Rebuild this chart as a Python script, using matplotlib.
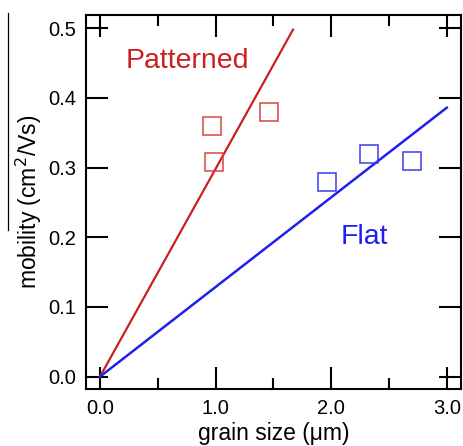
import matplotlib
matplotlib.use("Agg")
import matplotlib.pyplot as plt
from matplotlib.lines import Line2D
from matplotlib.ticker import MultipleLocator
import numpy as np

plt.rcParams['font.family'] = ['Liberation Sans', 'DejaVu Sans']

# measured points
patterned_x = [0.97, 0.985, 1.465]
patterned_y = [0.36, 0.308, 0.38]
flat_x = [1.96, 2.33, 2.70]
flat_y = [0.28, 0.32, 0.31]

# fit lines through origin
patterned_line_x = [0.0, 1.67]
patterned_line_y = [0.0, 0.498]
flat_line_x = [0.0, 3.0]
flat_line_y = [0.0, 0.386]

red = '#cc1f1f'
red_sq = '#d8463f'
blue = '#1f1fee'
blue_sq = '#3a3af0'

fig = plt.figure(figsize=(4.63, 4.46), dpi=100)
ax = fig.add_axes([0.1857, 0.1278, 0.81, 0.8386])

ax.plot(patterned_line_x, patterned_line_y, color=red, lw=1.6)
ax.plot(flat_line_x, flat_line_y, color=blue, lw=1.8)
ax.plot(patterned_x, patterned_y, 's', ms=13, mfc='none', mec=red_sq, mew=1.1)
ax.plot(flat_x, flat_y, 's', ms=13, mfc='none', mec=blue_sq, mew=1.1)

ax.text(0.22, 0.453, 'Patterned', color=red, fontsize=20.5, va='center')
ax.text(2.08, 0.2, 'Flat', color=blue, fontsize=20.5, va='center')

ax.set_xlim(-0.121, 3.123)
ax.set_ylim(-0.0177, 0.519)
ax.xaxis.set_minor_locator(MultipleLocator(0.5))
ax.set_xticks([0, 1, 2, 3])
ax.set_xticklabels(['0.0', '1.0', '2.0', '3.0'])
ax.set_yticks([0, 0.1, 0.2, 0.3, 0.4, 0.5])
ax.set_yticklabels(['0.0', '0.1', '0.2', '0.3', '0.4', '0.5'])

ax.tick_params(which='both', direction='in', top=True, right=True, width=1.5,
               labelsize=14.5, pad=7)
ax.tick_params(which='major', length=15.5)
ax.tick_params(which='minor', length=8)
ax.tick_params(axis='y', which='minor', left=False, right=False)
for s in ax.spines.values():
    s.set_linewidth(1.5)

ax.set_xlabel('grain size (\u03bcm)', fontsize=16.5, labelpad=3)
ax.set_ylabel('mobility (cm$^2$/Vs)', fontsize=16.5, labelpad=3)

# thin vertical line at the left edge of the scan
fig.add_artist(Line2D([8 / 463, 8 / 463], [1 - 13 / 446, 1 - 230 / 446],
                      color='black', lw=0.9, transform=fig.transFigure))

fig.savefig('out.png', dpi=100)
